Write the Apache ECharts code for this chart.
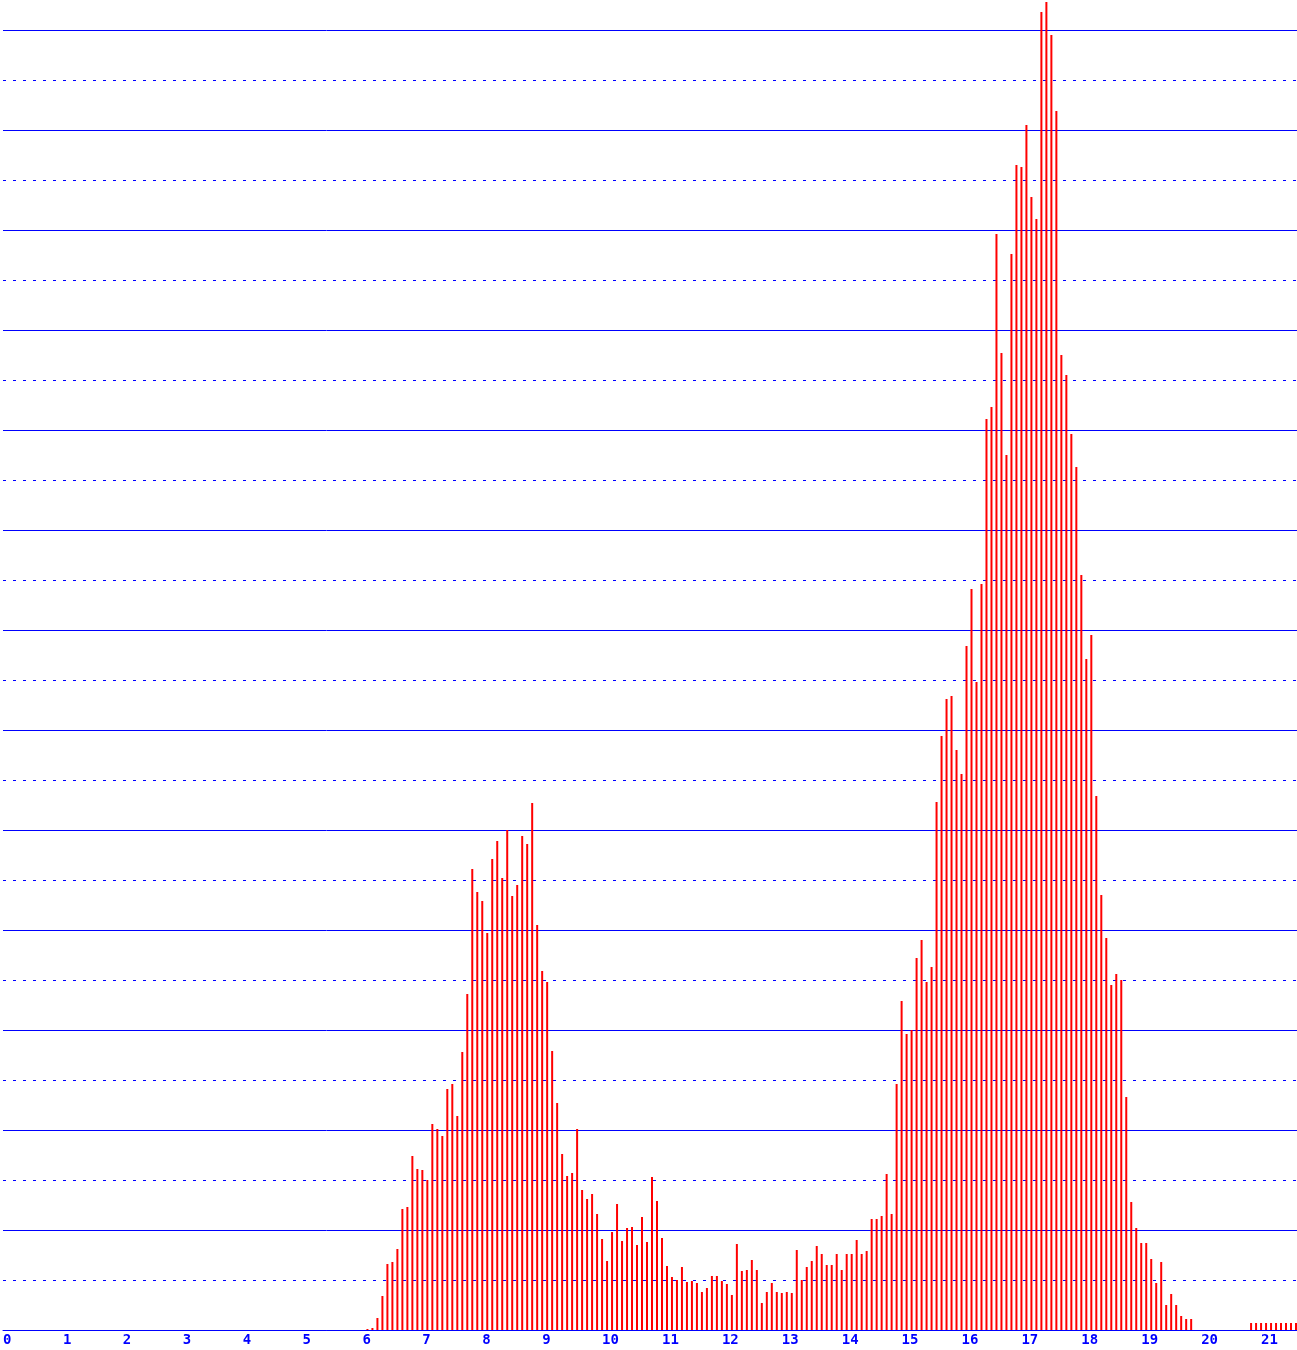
<!DOCTYPE html>
<html>
<head>
<meta charset="utf-8">
<script src="https://cdn.jsdelivr.net/npm/echarts@6/dist/echarts.min.js"></script>
<style>
html,body{margin:0;padding:0;background:#fff;}
#chart{width:1297px;height:1350px;}
</style>
</head>
<body>
<div id="chart"></div>
<script>
// Histogram bins: 12 bins per x unit; first value belongs to bin index 73 (x = 73/12)
var BINS_PER_UNIT = 12;
var mainStartBin = 73;
var mainValues = [
  0.01, 0.02, 0.12, 0.34, 0.66, 0.68, 0.81, 1.21, 1.23, 1.74,
  1.61, 1.60, 1.50, 2.06, 2.01, 1.94, 2.41, 2.46, 2.14, 2.78,
  3.36, 4.61, 4.38, 4.29, 3.97, 4.71, 4.89, 4.52, 5.00, 4.34,
  4.45, 4.94, 4.86, 5.27, 4.05, 3.59, 3.48, 2.79, 2.27, 1.76,
  1.54, 1.57, 2.01, 1.40, 1.31, 1.36, 1.16, 0.91, 0.69, 0.98,
  1.26, 0.89, 1.02, 1.03, 0.85, 1.13, 0.88, 1.53, 1.29, 0.92,
  0.64, 0.53, 0.50, 0.63, 0.48, 0.49, 0.47, 0.38, 0.42, 0.54,
  0.54, 0.49, 0.46, 0.35, 0.86, 0.59, 0.60, 0.70, 0.60, 0.27,
  0.38, 0.47, 0.38, 0.37, 0.38, 0.37, 0.80, 0.50, 0.63, 0.69,
  0.84, 0.76, 0.65, 0.65, 0.76, 0.60, 0.76, 0.76, 0.90, 0.76,
  0.79, 1.11, 1.11, 1.14, 1.56, 1.16, 2.46, 3.29, 2.96, 3.00,
  3.72, 3.90, 3.48, 3.63, 5.28, 5.94, 6.31, 6.34, 5.80, 5.56,
  6.84, 7.41, 6.48, 7.46, 9.11, 9.23, 10.96, 9.77, 8.75, 10.76,
  11.65, 11.63, 12.05, 11.33, 11.11, 13.18, 13.28, 12.95, 12.19, 9.75,
  9.55, 8.96, 8.63, 7.55, 6.71, 6.95, 5.34, 4.35, 3.92, 3.45,
  3.56, 3.50, 2.33, 1.28, 1.02, 0.87, 0.87, 0.71, 0.47, 0.68,
  0.25, 0.36, 0.25, 0.14, 0.11, 0.11
];
var tailStartBin = 250;
var tailValues = [0.07, 0.07, 0.07, 0.07, 0.07, 0.07, 0.07, 0.07, 0.07, 0.07];
var xTickLabels = ['0','1','2','3','4','5','6','7','8','9','10','11','12','13','14','15','16','17','18','19','20','21'];

var data = [];
mainValues.forEach(function (v, i) { data.push([(mainStartBin + i) / BINS_PER_UNIT, v]); });
tailValues.forEach(function (v, i) { data.push([(tailStartBin + i) / BINS_PER_UNIT, v]); });

var BLUE = '#0000ff';
var chart = echarts.init(document.getElementById('chart'), null, {renderer: 'canvas'});
chart.setOption({
  animation: false,
  backgroundColor: '#ffffff',
  grid: {left: 1, right: 0, top: 0, bottom: 20, containLabel: false},
  xAxis: {
    type: 'value',
    min: 0,
    max: 1296 / 60,
    interval: 1,
    axisLine: {show: true, lineStyle: {color: BLUE, width: 1}},
    axisTick: {show: false},
    splitLine: {show: false},
    axisLabel: {
      show: true,
      align: 'left',
      margin: 3,
      color: BLUE,
      fontFamily: 'DejaVu Sans Mono',
      fontWeight: 'bold',
      fontSize: 14,
      showMaxLabel: false,
      formatter: function (val) {
        var i = Math.round(val);
        return Math.abs(val - i) < 1e-6 && xTickLabels[i] !== undefined ? xTickLabels[i] : '';
      }
    }
  },
  yAxis: [
    {
      type: 'value', min: 0, max: 13.3, interval: 0.5,
      axisLine: {show: false}, axisTick: {show: false}, axisLabel: {show: false},
      splitLine: {show: true, showMaxLine: false, lineStyle: {color: BLUE, width: 1, type: [3, 7]}}
    },
    {
      type: 'value', min: 0, max: 13.3, interval: 1,
      axisLine: {show: false}, axisTick: {show: false}, axisLabel: {show: false},
      splitLine: {show: true, showMaxLine: false, lineStyle: {color: BLUE, width: 1, type: 'solid'}}
    }
  ],
  series: [{
    type: 'bar',
    yAxisIndex: 0,
    barWidth: 2,
    itemStyle: {color: '#ff0000'},
    data: data,
    z: 5
  }]
});
</script>
</body>
</html>
